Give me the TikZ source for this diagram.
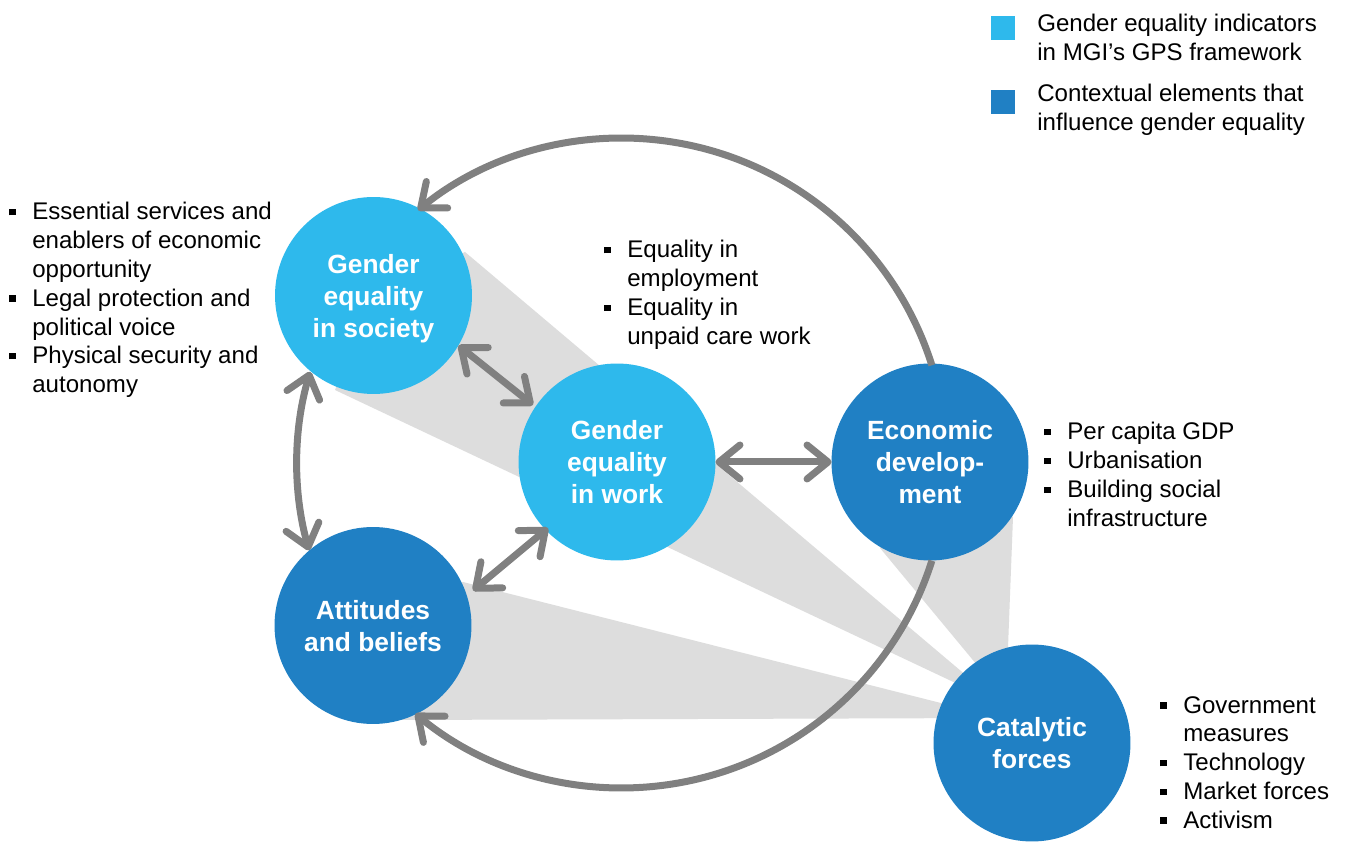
\documentclass[tikz,border=0pt]{standalone}
\usepackage{fontspec}
\setmainfont{Liberation Sans}
\usetikzlibrary{arrows.meta}
\definecolor{lb}{RGB}{46,185,236}
\definecolor{db}{RGB}{32,128,196}
\definecolor{ag}{RGB}{128,128,128}
\definecolor{wg}{RGB}{221,221,221}
\newcommand\bulsq{\makebox[0.46cm][l]{\raisebox{0.09cm}{\rule{0.13cm}{0.13cm}}}}
\newcommand\indt{\hspace*{0.46cm}}
\newcommand\ctop{\rule{0pt}{14.5pt}}
\newcommand\cbot{\rule[-3.2pt]{0pt}{3.2pt}}
\begin{document}
\begin{tikzpicture}[x=0.02cm,y=0.02cm,
  >={Straight Barb[length=0.42cm,width=0.68cm,round]},
  circ/.style={circle, minimum size=3.94cm, inner sep=0pt, outer sep=0pt, text=white, align=center, font=\fontsize{15}{18.2}\selectfont\bfseries},
  light/.style={circ, fill=lb},
  dark/.style={circ, fill=db},
  listtxt/.style={anchor=west, align=left, inner sep=0pt, font=\fontsize{13.7}{16.4}\selectfont},
  legsq/.style={rectangle, minimum size=0.48cm, inner sep=0pt},
  wedge/.style={fill=wg},
  garr/.style={draw=ag, line width=0.14cm}
]
\fill[white] (0,0) rectangle (1346,842);
\useasboundingbox (0,0) rectangle (1346,842);

% wedges
\coordinate (apS) at (1000,138);
\coordinate (apA) at (1000,124);
\coordinate (apE) at (1006,142);
\fill[wedge] (apS) -- (465,590) -- (373,545) -- (335,452) -- cycle;
\fill[wedge] (apA) -- (463,260) -- (373,217) -- (397,122) -- cycle;
\fill[wedge] (apE) -- (880,294) -- (930,380) -- (1013,325) -- cycle;

% circles
\node[light] (soc) at (373.5,546.5) {\ctop Gender\\equality\\in society\cbot};
\node[light] (work) at (617,380) {\ctop Gender\\equality\\in work\cbot};
\node[dark] (econ) at (930,380) {\ctop Economic\\develop-\\ment\cbot};
\node[dark] (att) at (373,216.5) {\ctop Attitudes\\and beliefs\cbot};
\node[dark] (cat) at (1032,99) {\ctop Catalytic\\forces\cbot};

% centre of the big loop
\coordinate (loopc) at (622,379);

% connectors
\draw[garr, <->] ([shift={(85,-50)}]soc.center) -- ([shift={(-84,57)}]work.center);
\draw[garr, <->] (work) -- (econ);
\draw[garr, <->] ([shift={(-69,-66)}]work.center) -- ([shift={(100,35)}]att.center);
\draw[garr, ->, line cap=butt] ([shift={(17.5:6.5cm)}]loopc) arc[start angle=17.5, end angle=128.9, radius=6.5cm];
\draw[garr, ->, line cap=butt] ([shift={(-17.5:6.5cm)}]loopc) arc[start angle=-17.5, end angle=-129.5, radius=6.5cm];
\draw[garr, <->] ([shift={(163.7:6.5cm)}]loopc) arc[start angle=163.7, end angle=195.6, radius=6.5cm];

% lists
\node[listtxt] (lsoc) at (9,542) {\bulsq Essential services and\\\indt enablers of economic\\\indt opportunity\\\bulsq Legal protection and\\\indt political voice\\\bulsq Physical security and\\\indt autonomy};
\node[listtxt] (lwork) at (604,547) {\bulsq Equality in\\\indt employment\\\bulsq Equality in\\\indt unpaid care work};
\node[listtxt] (lecon) at (1044,367.5) {\bulsq Per capita GDP\\\bulsq Urbanisation\\\bulsq Building social\\\indt infrastructure};
\node[listtxt] (lcat) at (1160,79.5) {\bulsq Government\\\indt measures\\\bulsq Technology\\\bulsq Market forces\\\bulsq Activism};

% legend
\node[legsq, fill=lb] (sq1) at (1003,813.5) {};
\node[legsq, fill=db] (sq2) at (1003,739.5) {};
\node[listtxt] (leg1) at (1037,805) {Gender equality indicators\\in MGI’s GPS framework};
\node[listtxt] (leg2) at (1037,732) {Contextual elements that\\influence gender equality};
\end{tikzpicture}
\end{document}
